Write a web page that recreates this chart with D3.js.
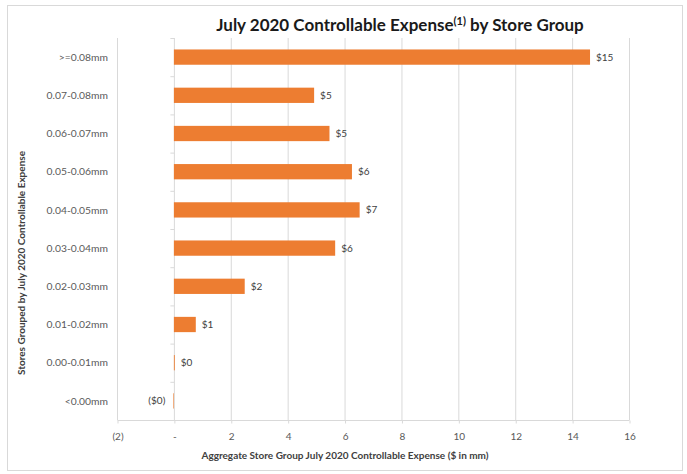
<!DOCTYPE html>
<html>
<head>
<meta charset="utf-8">
<script src="https://cdn.jsdelivr.net/npm/d3@7"></script>
<style>
  html, body { margin: 0; padding: 0; background: #fff; }
  svg { display: block; font-family: Lato, "Open Sans", sans-serif; }
</style>
</head>
<body>
<svg id="chart" width="687" height="474"></svg>
<script>
// Store groups, top to bottom
const categories = [">=0.08mm", "0.07-0.08mm", "0.06-0.07mm", "0.05-0.06mm", "0.04-0.05mm",
                    "0.03-0.04mm", "0.02-0.03mm", "0.01-0.02mm", "0.00-0.01mm", "<0.00mm"];
// Aggregate controllable expense, $ in mm
const values = [14.63, 4.93, 5.47, 6.26, 6.53, 5.67, 2.49, 0.77, 0.03, -0.02];
// X axis ticks
const xTicks = [-2, 0, 2, 4, 6, 8, 10, 12, 14, 16];

const svg = d3.select("#chart");
const W = 687, H = 474;
const margin = { left: 117, right: 58, top: 38, bottom: 54 };

// Outer chart frame
svg.append("rect")
  .attr("x", 7.5).attr("y", 5.5).attr("width", 675).attr("height", 465)
  .attr("fill", "#fff").attr("stroke", "#d9d9d9").attr("stroke-width", 1);

const x = d3.scaleLinear().domain([-2, 16]).range([margin.left, W - margin.right]);
const y = d3.scaleBand().domain(categories).range([margin.top, H - margin.bottom]).paddingInner(0.6).paddingOuter(0.3);
const yTicks = d3.scaleBand().domain(categories).range([margin.top, H - margin.bottom]);

const fmtTick = v => v < 0 ? `(${Math.abs(v)})` : v === 0 ? "-" : `${v}`;
const fmtVal = v => {
  const r = Math.round(Math.abs(v));
  return v < 0 ? `($${r})` : `$${r}`;
};

const yBottom = H - margin.bottom;

// Vertical gridlines
svg.append("g")
  .selectAll("line")
  .data(xTicks.filter(d => d !== 0))
  .join("line")
  .attr("x1", d => x(d) + 0.5).attr("x2", d => x(d) + 0.5)
  .attr("y1", margin.top).attr("y2", yBottom)
  .attr("stroke", "#d9d9d9").attr("stroke-width", 1);

// Bottom axis
const xAxis = svg.append("g")
  .attr("transform", `translate(0.5,${yBottom + 0.5})`)
  .call(d3.axisBottom(x).tickValues(xTicks).tickFormat(fmtTick).tickSize(3).tickPadding(9));
xAxis.select(".domain").attr("stroke", "#d9d9d9").attr("d", `M${x(-2)},0H${x(16)}`);
xAxis.selectAll(".tick line").attr("stroke", "#d9d9d9");
xAxis.selectAll(".tick text")
  .attr("fill", "#595959").attr("font-size", 10).attr("font-family", "Lato, sans-serif");

// Category axis at zero
const yAxis = svg.append("g").attr("transform", `translate(${x(0) + 0.5},0)`);
yAxis.append("line")
  .attr("y1", margin.top).attr("y2", yBottom)
  .attr("stroke", "#d9d9d9");
yAxis.selectAll("line.tk")
  .data(categories)
  .join("line").attr("class", "tk")
  .attr("x1", -4).attr("x2", 0)
  .attr("y1", d => yTicks(d) + 0.5).attr("y2", d => yTicks(d) + 0.5)
  .attr("stroke", "#d9d9d9");

// Category labels
svg.append("g")
  .selectAll("text")
  .data(categories)
  .join("text")
  .attr("x", 108)
  .attr("y", d => yTicks(d) + yTicks.bandwidth() / 2)
  .attr("dy", "0.35em")
  .attr("text-anchor", "end")
  .attr("font-size", 10.3)
  .attr("fill", "#595959")
  .text(d => d);

// Bars
svg.append("g")
  .selectAll("rect")
  .data(values)
  .join("rect")
  .attr("x", d => x(Math.min(0, d)))
  .attr("y", (d, i) => y(categories[i]))
  .attr("width", d => Math.max(0.6, Math.abs(x(d) - x(0))))
  .attr("height", y.bandwidth())
  .attr("fill", "#ED7D31");

// Value labels
svg.append("g")
  .selectAll("text")
  .data(values)
  .join("text")
  .attr("x", d => d < 0 ? x(d) - 8 : x(d) + 6)
  .attr("y", (d, i) => y(categories[i]) + y.bandwidth() / 2)
  .attr("dy", "0.35em")
  .attr("text-anchor", d => d < 0 ? "end" : "start")
  .attr("font-size", 10)
  .attr("fill", "#404040")
  .text(d => fmtVal(d));

// Chart title
const title = svg.append("text")
  .attr("x", 400).attr("y", 31)
  .attr("text-anchor", "middle")
  .attr("font-size", 17).attr("font-weight", "bold")
  .attr("fill", "#1a1a1a");
title.append("tspan").text("July 2020 Controllable Expense");
title.append("tspan").attr("font-size", 11).attr("dy", -6).text("(1)");
title.append("tspan").attr("dy", 6).text(" by Store Group");

// Axis titles
svg.append("text")
  .attr("x", 345).attr("y", 459)
  .attr("text-anchor", "middle")
  .attr("font-size", 10).attr("font-weight", "bold")
  .attr("fill", "#404040")
  .text("Aggregate Store Group July 2020 Controllable Expense ($ in mm)");

svg.append("text")
  .attr("transform", "translate(25,263) rotate(-90)")
  .attr("text-anchor", "middle")
  .attr("font-size", 10).attr("font-weight", "bold")
  .attr("fill", "#404040")
  .text("Stores Grouped by July 2020 Controllable Expense");
</script>
</body>
</html>
